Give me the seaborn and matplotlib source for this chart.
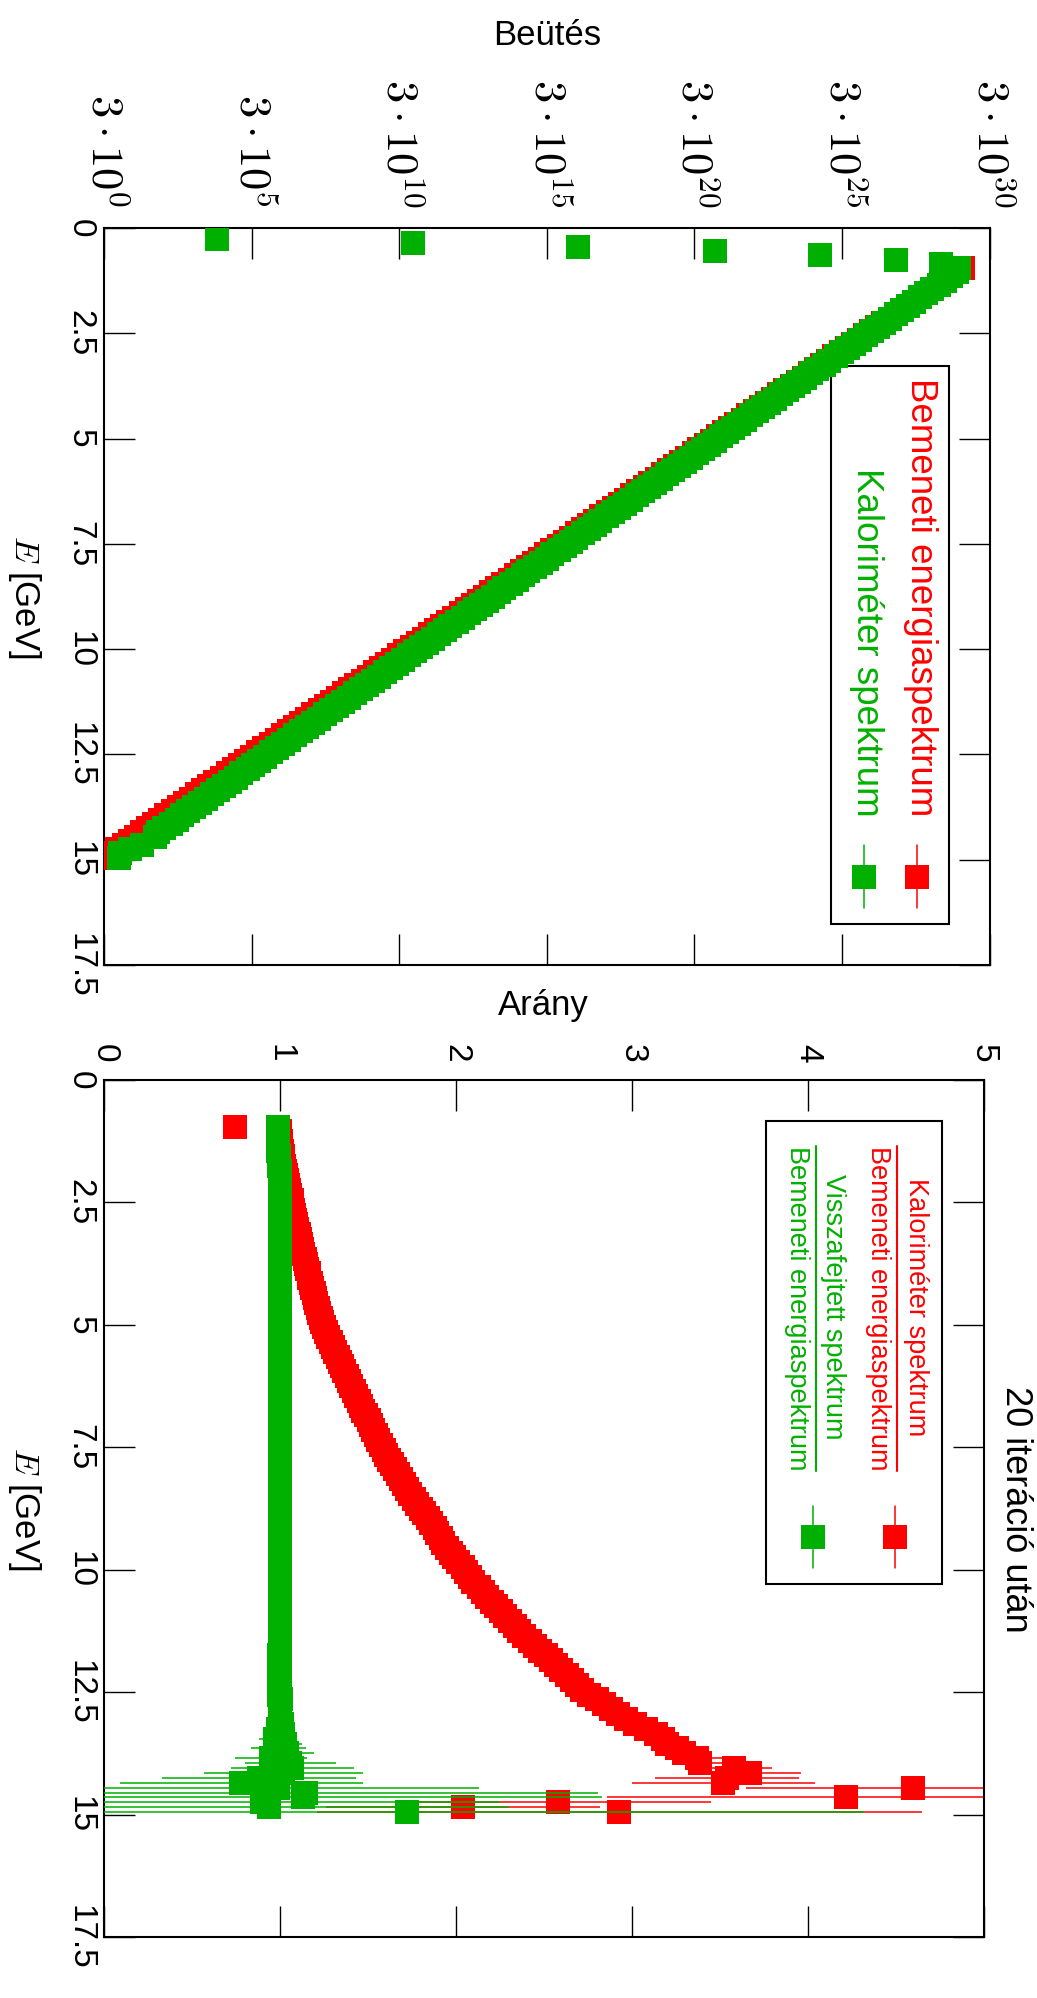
import numpy as np
import pandas as pd
import matplotlib
matplotlib.use("Agg")
import matplotlib.pyplot as plt
import seaborn as sns
from matplotlib import font_manager as fm
from matplotlib.lines import Line2D
from matplotlib.patches import Rectangle
from matplotlib.ticker import NullLocator

# ---------------- data ----------------
# bin centres [GeV]
energia = [0.95,
    1.05, 1.15, 1.25, 1.35, 1.45, 1.55, 1.65, 1.75, 1.85, 1.95,
    2.05, 2.15, 2.25, 2.35, 2.45, 2.55, 2.65, 2.75, 2.85, 2.95,
    3.05, 3.15, 3.25, 3.35, 3.45, 3.55, 3.65, 3.75, 3.85, 3.95,
    4.05, 4.15, 4.25, 4.35, 4.45, 4.55, 4.65, 4.75, 4.85, 4.95,
    5.05, 5.15, 5.25, 5.35, 5.45, 5.55, 5.65, 5.75, 5.85, 5.95,
    6.05, 6.15, 6.25, 6.35, 6.45, 6.55, 6.65, 6.75, 6.85, 6.95,
    7.05, 7.15, 7.25, 7.35, 7.45, 7.55, 7.65, 7.75, 7.85, 7.95,
    8.05, 8.15, 8.25, 8.35, 8.45, 8.55, 8.65, 8.75, 8.85, 8.95,
    9.05, 9.15, 9.25, 9.35, 9.45, 9.55, 9.65, 9.75, 9.85, 9.95,
    10.05, 10.15, 10.25, 10.35, 10.45, 10.55, 10.65, 10.75, 10.85, 10.95,
    11.05, 11.15, 11.25, 11.35, 11.45, 11.55, 11.65, 11.75, 11.85, 11.95,
    12.05, 12.15, 12.25, 12.35, 12.45, 12.55, 12.65, 12.75, 12.85, 12.95,
    13.05, 13.15, 13.25, 13.35, 13.45, 13.55, 13.65, 13.75, 13.85, 13.95,
    14.05, 14.15, 14.25, 14.35, 14.45, 14.55, 14.65, 14.75, 14.85, 14.95]

# Bemeneti energiaspektrum, log10(Beütés)
bemeneti_log10 = [29.58,
    29.37, 29.16, 28.96, 28.75, 28.54, 28.33, 28.13, 27.92, 27.71, 27.50,
    27.30, 27.09, 26.88, 26.67, 26.47, 26.26, 26.05, 25.84, 25.64, 25.43,
    25.22, 25.01, 24.81, 24.60, 24.39, 24.18, 23.98, 23.77, 23.56, 23.35,
    23.14, 22.94, 22.73, 22.52, 22.31, 22.11, 21.90, 21.69, 21.48, 21.28,
    21.07, 20.86, 20.65, 20.45, 20.24, 20.03, 19.82, 19.62, 19.41, 19.20,
    18.99, 18.79, 18.58, 18.37, 18.16, 17.95, 17.75, 17.54, 17.33, 17.12,
    16.92, 16.71, 16.50, 16.29, 16.09, 15.88, 15.67, 15.46, 15.26, 15.05,
    14.84, 14.63, 14.43, 14.22, 14.01, 13.80, 13.60, 13.39, 13.18, 12.97,
    12.76, 12.56, 12.35, 12.14, 11.93, 11.73, 11.52, 11.31, 11.10, 10.90,
    10.69, 10.48, 10.27, 10.07, 9.86, 9.65, 9.44, 9.24, 9.03, 8.82,
    8.61, 8.41, 8.20, 7.99, 7.78, 7.57, 7.37, 7.16, 6.95, 6.74,
    6.54, 6.33, 6.12, 5.91, 5.71, 5.50, 5.29, 5.08, 4.88, 4.67,
    4.46, 4.25, 4.05, 3.84, 3.63, 3.42, 3.22, 3.01, 2.80, 2.59,
    2.38, 2.18, 1.97, 1.76, 1.55, 1.35, 1.14, 0.93, 0.72, 0.52]

# Kaloriméter spektrum below the first input bin
kalori_low_E = [0.25, 0.35, 0.45, 0.55, 0.65, 0.75, 0.85]
kalori_low_log10 = [4.29, 10.94, 16.55, 21.17, 24.74, 27.30, 28.85]

# Kaloriméter spektrum / Bemeneti energiaspektrum
arany_kal = [0.745,
    1.000, 1.003, 1.006, 1.009, 1.012, 1.015, 1.020, 1.025, 1.030, 1.036,
    1.042, 1.048, 1.054, 1.060, 1.066, 1.070, 1.076, 1.082, 1.088, 1.094,
    1.100, 1.106, 1.114, 1.120, 1.126, 1.133, 1.140, 1.148, 1.155, 1.163,
    1.168, 1.176, 1.184, 1.192, 1.200, 1.208, 1.216, 1.224, 1.232, 1.240,
    1.250, 1.260, 1.275, 1.290, 1.300, 1.315, 1.330, 1.340, 1.355, 1.365,
    1.380, 1.390, 1.405, 1.420, 1.435, 1.450, 1.460, 1.475, 1.490, 1.505,
    1.520, 1.530, 1.545, 1.560, 1.575, 1.590, 1.605, 1.620, 1.640, 1.655,
    1.670, 1.690, 1.705, 1.720, 1.740, 1.760, 1.780, 1.800, 1.820, 1.840,
    1.860, 1.880, 1.895, 1.915, 1.930, 1.950, 1.970, 1.990, 2.010, 2.040,
    2.060, 2.080, 2.100, 2.130, 2.155, 2.180, 2.205, 2.230, 2.255, 2.280,
    2.310, 2.335, 2.360, 2.390, 2.420, 2.450, 2.480, 2.510, 2.540, 2.570,
    2.600, 2.630, 2.660, 2.690, 2.720, 2.760, 2.800, 2.840, 2.880, 2.920,
    2.970, 3.020, 3.080, 3.140, 3.180, 3.200, 3.260, 3.300, 3.370, 3.390,
    3.580, 3.670, 3.540, 3.520, 4.600, np.nan, 4.220, 2.580, 2.040, 2.930]
arany_kal_hiba = [0.010,
    0.004, 0.004, 0.004, 0.004, 0.004, 0.004, 0.004, 0.004, 0.004, 0.004,
    0.004, 0.004, 0.004, 0.004, 0.004, 0.004, 0.004, 0.004, 0.004, 0.004,
    0.005, 0.005, 0.005, 0.005, 0.005, 0.005, 0.005, 0.005, 0.005, 0.005,
    0.005, 0.005, 0.005, 0.005, 0.005, 0.005, 0.005, 0.005, 0.005, 0.005,
    0.006, 0.006, 0.006, 0.006, 0.006, 0.006, 0.006, 0.006, 0.006, 0.006,
    0.006, 0.006, 0.006, 0.006, 0.006, 0.006, 0.006, 0.006, 0.006, 0.006,
    0.007, 0.007, 0.007, 0.007, 0.007, 0.007, 0.007, 0.007, 0.007, 0.007,
    0.008, 0.008, 0.008, 0.008, 0.008, 0.008, 0.008, 0.008, 0.008, 0.008,
    0.009, 0.009, 0.009, 0.009, 0.009, 0.009, 0.009, 0.009, 0.009, 0.009,
    0.010, 0.010, 0.010, 0.011, 0.011, 0.011, 0.012, 0.012, 0.012, 0.012,
    0.013, 0.013, 0.014, 0.014, 0.015, 0.015, 0.016, 0.016, 0.017, 0.017,
    0.018, 0.019, 0.020, 0.022, 0.024, 0.026, 0.028, 0.030, 0.033, 0.035,
    0.040, 0.045, 0.050, 0.060, 0.070, 0.080, 0.100, 0.120, 0.155, 0.160,
    0.220, 0.290, 0.410, 0.520, 0.950, np.nan, 1.360, 0.870, 0.780, 1.720]

# Visszafejtett spektrum / Bemeneti energiaspektrum
arany_vissza = [0.990,
    0.990, 0.990, 0.988, 0.990, 0.990, 0.993, 0.995, 0.995, 0.998, 1.000,
    1.000, 1.000, 1.000, 1.000, 1.000, 1.000, 1.000, 1.000, 1.000, 1.000,
    1.000, 1.000, 1.000, 1.000, 1.000, 1.000, 1.000, 1.000, 1.000, 1.000,
    1.000, 1.000, 1.000, 1.000, 1.000, 1.000, 1.000, 1.000, 1.000, 1.000,
    1.000, 1.000, 1.000, 1.000, 1.000, 1.000, 1.000, 1.000, 1.000, 1.000,
    1.000, 1.000, 1.000, 1.000, 1.000, 1.000, 1.000, 1.000, 1.000, 1.000,
    1.000, 1.000, 1.000, 1.000, 1.000, 1.000, 1.000, 1.000, 1.000, 1.000,
    1.000, 1.000, 1.000, 1.000, 1.000, 1.000, 1.000, 1.000, 1.000, 1.000,
    1.000, 1.000, 1.000, 1.000, 1.000, 1.000, 1.000, 1.000, 1.000, 1.000,
    1.000, 1.000, 1.000, 1.000, 1.000, 1.000, 1.000, 1.000, 1.000, 1.000,
    1.000, 1.000, 1.000, 1.000, 1.000, 1.000, 0.998, 0.995, 1.000, 0.998,
    1.000, 0.995, 1.002, 0.998, 1.000, 0.995, 1.005, 0.998, 1.000, 1.003,
    1.000, 1.010, 0.990, 1.020, 0.970, 1.030, 0.990, 1.040, 0.950, 1.060,
    1.070, 1.020, 0.880, 0.780, 0.990, 1.150, 1.130, 0.900, 0.940, 1.720]
arany_vissza_hiba = [0.010,
    0.004, 0.004, 0.004, 0.004, 0.004, 0.004, 0.004, 0.004, 0.004, 0.004,
    0.004, 0.004, 0.004, 0.004, 0.004, 0.004, 0.004, 0.004, 0.004, 0.004,
    0.005, 0.005, 0.005, 0.005, 0.005, 0.005, 0.005, 0.005, 0.005, 0.005,
    0.005, 0.005, 0.005, 0.005, 0.005, 0.005, 0.005, 0.005, 0.005, 0.005,
    0.006, 0.006, 0.006, 0.006, 0.006, 0.006, 0.006, 0.006, 0.006, 0.006,
    0.006, 0.006, 0.006, 0.006, 0.006, 0.006, 0.006, 0.006, 0.006, 0.006,
    0.007, 0.007, 0.007, 0.007, 0.007, 0.007, 0.007, 0.007, 0.007, 0.007,
    0.008, 0.008, 0.008, 0.008, 0.008, 0.008, 0.008, 0.008, 0.008, 0.008,
    0.009, 0.009, 0.009, 0.009, 0.009, 0.009, 0.009, 0.009, 0.009, 0.009,
    0.010, 0.010, 0.010, 0.011, 0.011, 0.011, 0.012, 0.012, 0.012, 0.012,
    0.013, 0.013, 0.014, 0.014, 0.015, 0.015, 0.016, 0.016, 0.017, 0.017,
    0.018, 0.019, 0.020, 0.021, 0.022, 0.023, 0.024, 0.025, 0.027, 0.029,
    0.030, 0.035, 0.040, 0.050, 0.090, 0.097, 0.156, 0.156, 0.205, 0.260,
    0.350, 0.450, 0.550, 0.690, 1.140, 1.660, 1.700, 1.350, 1.360, 2.600]

e_ticks = [0, 2.5, 5, 7.5, 10, 12.5, 15, 17.5]
e_tick_labels = ["0", "2.5", "5", "7.5", "10", "12.5", "15", "17.5"]
beutes_ticks = [3e0, 3e5, 3e10, 3e15, 3e20, 3e25, 3e30]
beutes_tick_labels = [r"$3\cdot10^{0}$", r"$3\cdot10^{5}$", r"$3\cdot10^{10}$",
                      r"$3\cdot10^{15}$", r"$3\cdot10^{20}$", r"$3\cdot10^{25}$",
                      r"$3\cdot10^{30}$"]
arany_ticks = [0, 1, 2, 3, 4, 5]
arany_tick_labels = ["0", "1", "2", "3", "4", "5"]

# ---------------- style ----------------
sns.set_theme(style="white")
plt.rcParams["font.family"] = ["Liberation Sans", "DejaVu Sans"]
plt.rcParams["mathtext.fontset"] = "cm"
plt.rcParams["axes.edgecolor"] = "black"

def has_font(name):
    try:
        fm.findfont(fm.FontProperties(family=name), fallback_to_default=False)
        return True
    except Exception:
        return False

NARROW = has_font("Liberation Sans Narrow")
TICK_FAMILY = ["Liberation Sans Narrow", "DejaVu Sans"] if NARROW else ["Liberation Sans", "DejaVu Sans"]
TICK_SIZE = 28 if NARROW else 24

RED = "#ff0000"
GREEN = "#00b000"
MS = 17.3            # marker side in points (24 px)
W, H = 1037, 1998

fig = plt.figure(figsize=(W / 100, H / 100), dpi=100)
fig.patch.set_facecolor("white")

# panel rectangles in pixels (left, right, top, bottom)
P1 = (104, 989.5, 228, 965)
P2 = (104, 983.5, 1080, 1937)

def add_ax(p):
    L, R, T, B = p
    return fig.add_axes([L / W, 1 - B / H, (R - L) / W, (B - T) / H])

def ax_xy(p, x, y):
    L, R, T, B = p
    return ((x - L) / (R - L), (B - y) / (B - T))

ax1 = add_ax(P1)
ax2 = add_ax(P2)

# ---------------- top panel ----------------
df_bem = pd.DataFrame({"E": energia, "Beutes": 10.0 ** np.array(bemeneti_log10)})
kal_band = 10.0 ** np.array(bemeneti_log10) * np.array(arany_kal)
df_kal = pd.DataFrame({"E": list(kalori_low_E) + list(energia),
                       "Beutes": list(10.0 ** np.array(kalori_low_log10)) + list(kal_band)}).dropna()

ax1.set_xscale("log")
sns.scatterplot(data=df_bem, x="Beutes", y="E", marker="s", s=MS ** 2, color=RED,
                linewidth=0, ax=ax1, zorder=3, legend=False)
sns.scatterplot(data=df_kal, x="Beutes", y="E", marker="s", s=MS ** 2, color=GREEN,
                linewidth=0, ax=ax1, zorder=4, legend=False)
ax1.set_xlim(3, 3e30)
ax1.set_ylim(17.5, 0)
ax1.set_xticks(beutes_ticks)
ax1.xaxis.set_minor_locator(NullLocator())

# ---------------- bottom panel ----------------
ax2.errorbar(arany_kal, energia, xerr=arany_kal_hiba, fmt="none", ecolor=RED,
             elinewidth=1.1, capsize=0, zorder=2)
sns.scatterplot(x=arany_kal, y=energia, marker="s", s=MS ** 2, color=RED,
                linewidth=0, ax=ax2, zorder=3, legend=False)
ax2.errorbar(arany_vissza, energia, xerr=arany_vissza_hiba, fmt="none", ecolor=GREEN,
             elinewidth=1.1, capsize=0, zorder=4)
sns.scatterplot(x=arany_vissza, y=energia, marker="s", s=MS ** 2, color=GREEN,
                linewidth=0, ax=ax2, zorder=5, legend=False)
ax2.set_xlim(0, 5)
ax2.set_ylim(17.5, 0)
ax2.set_xticks(arany_ticks)

for ax in (ax1, ax2):
    ax.set_facecolor("white")
    ax.set_yticks(e_ticks)
    ax.set_yticklabels(e_tick_labels, fontfamily=TICK_FAMILY, fontsize=TICK_SIZE,
                       va="center", rotation=-90)
    ax.tick_params(axis="x", which="major", direction="in", length=22, width=1.0,
                   top=True, bottom=True, labeltop=False, labelbottom=False,
                   colors="black")
    ax.tick_params(axis="y", which="major", direction="in", length=22, width=1.0,
                   left=True, right=True, labelleft=True, labelright=False,
                   pad=6, colors="black")
    for sp in ax.spines.values():
        sp.set_linewidth(1.5)
        sp.set_color("black")
    ax.grid(False)

# value-axis tick labels above each panel, turned like the rest of the chart
xtrans1 = ax1.get_xaxis_transform()
for v, lab in zip(beutes_ticks, beutes_tick_labels):
    ax1.text(v, 1 + 21 / (P1[3] - P1[2]), lab, transform=xtrans1, rotation=-90,
             ha="center", va="bottom", fontsize=32, color="black", clip_on=False)
xtrans2 = ax2.get_xaxis_transform()
for v, lab in zip(arany_ticks, arany_tick_labels):
    ax2.text(v, 1 + 17 / (P2[3] - P2[2]), lab, transform=xtrans2, rotation=-90,
             ha="center", va="bottom", fontsize=TICK_SIZE, fontfamily=TICK_FAMILY,
             color="black", clip_on=False)

# axis labels
ax1.set_xlabel("Beütés", fontsize=25, color="black")
ax1.xaxis.set_label_position("top")
ax1.xaxis.set_label_coords(0.5, ax_xy(P1, 0, 35)[1])
ax1.xaxis.label.set_va("center")
ax2.set_xlabel("Arány", fontsize=25, color="black")
ax2.xaxis.set_label_position("top")
ax2.xaxis.set_label_coords(0.5, ax_xy(P2, 0, 1005)[1])
ax2.xaxis.label.set_va("center")
for ax, p in ((ax1, P1), (ax2, P2)):
    ax.set_ylabel("$E$ [GeV]", fontsize=25, rotation=-90, color="black")
    ax.yaxis.set_label_coords(ax_xy(p, 24, 0)[0], 0.5)
    ax.yaxis.label.set_va("center")
    ax.yaxis.label.set_ha("center")

# title of lower panel
tx, ty = ax_xy(P2, 1015, 1509)
ax2.text(tx, ty, "20 iteráció után", transform=ax2.transAxes, rotation=-90,
         fontsize=26, ha="center", va="center", color="black")

# ---------------- legend, top panel ----------------
def box(ax, p, x0, y0, x1, y1):
    a0 = ax_xy(p, x0, y1)
    a1 = ax_xy(p, x1, y0)
    ax.add_patch(Rectangle(a0, a1[0] - a0[0], a1[1] - a0[1], transform=ax.transAxes,
                           fill=False, edgecolor="black", linewidth=1.5, zorder=1,
                           clip_on=False))

def sample(ax, p, x, y0, y1, color):
    a0 = ax_xy(p, x, y0)
    a1 = ax_xy(p, x, y1)
    ax.add_line(Line2D([a0[0], a1[0]], [a0[1], a1[1]], transform=ax.transAxes,
                       color=color, linewidth=1.1, zorder=6, clip_on=False))
    am = ax_xy(p, x, (y0 + y1) / 2)
    ax.add_line(Line2D([am[0]], [am[1]], transform=ax.transAxes, marker="s",
                       markersize=MS, markerfacecolor=color, markeredgewidth=0,
                       linestyle="none", zorder=7, clip_on=False))

box(ax1, P1, 831, 366, 949, 923.5)
for x, txt, col in ((920, "Bemeneti energiaspektrum", RED),
                    (866, "Kaloriméter spektrum", GREEN)):
    a = ax_xy(P1, x, 816.5)
    ax1.text(a[0], a[1], txt, transform=ax1.transAxes, rotation=-90,
             rotation_mode="anchor", ha="right", va="center", fontsize=26.5,
             color=col, zorder=7)
sample(ax1, P1, 917, 845, 908, RED)
sample(ax1, P1, 864, 845, 908, GREEN)

# ---------------- legend, bottom panel ----------------
box(ax2, P2, 766, 1121, 942, 1584)
for xn, xb, xd, num, col in ((916, 897.3, 878, "Kaloriméter spektrum", RED),
                             (833, 816, 797, "Visszafejtett spektrum", GREEN)):
    a = ax_xy(P2, xn, 1307)
    ax2.text(a[0], a[1], num, transform=ax2.transAxes, rotation=-90,
             ha="center", va="center", fontsize=19.5, color=col, zorder=7)
    a = ax_xy(P2, xd, 1308)
    ax2.text(a[0], a[1], "Bemeneti energiaspektrum", transform=ax2.transAxes,
             rotation=-90, ha="center", va="center", fontsize=19.5, color=col, zorder=7)
    b0 = ax_xy(P2, xb, 1146)
    b1 = ax_xy(P2, xb, 1470.5)
    ax2.add_line(Line2D([b0[0], b1[0]], [b0[1], b1[1]], transform=ax2.transAxes,
                        color=col, linewidth=1.5, zorder=7, clip_on=False))
sample(ax2, P2, 895, 1506, 1568, RED)
sample(ax2, P2, 813, 1506, 1568, GREEN)

fig.savefig("out.png", dpi=100, facecolor="white")
